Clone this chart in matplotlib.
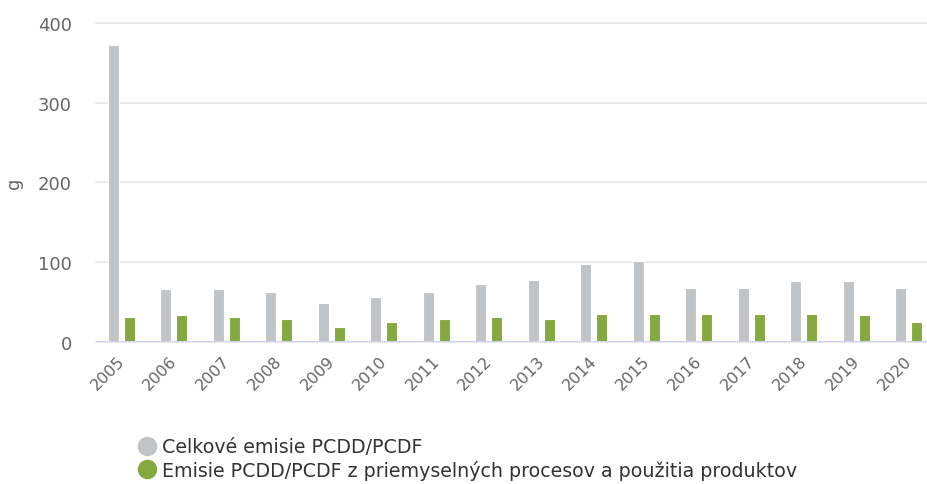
import numpy as np
import matplotlib.pyplot as plt
from matplotlib.lines import Line2D

years = ['2005', '2006', '2007', '2008', '2009', '2010', '2011', '2012',
         '2013', '2014', '2015', '2016', '2017', '2018', '2019', '2020']
celkove = [373, 66, 66, 62, 49, 56, 62, 72, 78, 97, 101, 68, 68, 76, 76, 68]
priemysel = [31, 33, 31, 29, 18, 25, 29, 31, 29, 35, 35, 35, 35, 35, 33, 25]

label_1 = 'Celkové emisie PCDD/PCDF'
label_2 = 'Emisie PCDD/PCDF z priemyselných procesov a použitia produktov'

grey = '#c1c4c7'
green = '#85a83f'

fig = plt.figure(figsize=(9.28, 4.85), dpi=100)
ax = fig.add_axes([95.7 / 928, 1 - 342.7 / 485, (928 - 95.7) / 928, (342.7 - 24) / 485])

x = np.arange(len(years))
w = 0.21
ax.bar(x - 0.17, celkove, width=w, color=grey, edgecolor='white', linewidth=0.8, zorder=3)
ax.bar(x + 0.14, priemysel, width=w, color=green, edgecolor='white', linewidth=0.8, zorder=3)

ax.set_ylim(0, 400)
ax.set_xlim(-0.5, 15.35)
ax.set_yticks([0, 100, 200, 300, 400])
ax.yaxis.grid(True, color='#e6e6e6', linewidth=1.2, zorder=0)
for gl in ax.get_ygridlines():
    gl.set_clip_on(False)
ax.axhline(0, color='#ccd6eb', linewidth=1.5, zorder=4)

for s in ax.spines.values():
    s.set_visible(False)
ax.tick_params(axis='both', length=0, colors='#666666')
ax.tick_params(axis='y', pad=17, labelsize=13)
ax.set_xticks(x)
ax.set_xticklabels(years, rotation=45, ha='right', va='center', rotation_mode='anchor')
ax.tick_params(axis='x', pad=12, labelsize=11.5)

ax.set_ylabel('g', fontsize=13, color='#666666', labelpad=11)

handles = [Line2D([], [], marker='o', linestyle='', markersize=13, color=grey),
           Line2D([], [], marker='o', linestyle='', markersize=13, color=green)]
fig.legend(handles, [label_1, label_2], loc='upper left', bbox_to_anchor=(126 / 928, 1 - 429 / 485),
           frameon=False, fontsize=13.65, labelcolor='#333333', handletextpad=0.2,
           labelspacing=0.18, borderpad=0, handlelength=1.2)

fig.savefig('out.png', dpi=100)
